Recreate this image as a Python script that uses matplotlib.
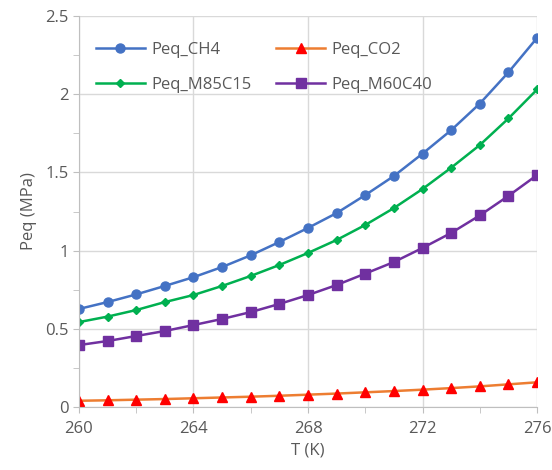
import matplotlib.pyplot as plt
from matplotlib.ticker import MultipleLocator

# temperatures (K)
T = [260, 261, 262, 263, 264, 265, 266, 267, 268, 269, 270, 271, 272, 273, 274, 275, 276]

# equilibrium pressures (MPa)
peq_ch4 = [0.627, 0.671, 0.720, 0.774, 0.830, 0.895, 0.970, 1.055, 1.145, 1.240, 1.355,
           1.477, 1.620, 1.770, 1.940, 2.140, 2.360]
peq_co2 = [0.040, 0.043, 0.047, 0.051, 0.056, 0.061, 0.066, 0.072, 0.079, 0.086, 0.094,
           0.102, 0.111, 0.121, 0.132, 0.145, 0.158]
peq_m85c15 = [0.543, 0.578, 0.620, 0.671, 0.716, 0.774, 0.838, 0.908, 0.985, 1.068, 1.164,
              1.272, 1.394, 1.530, 1.675, 1.845, 2.030]
peq_m60c40 = [0.396, 0.422, 0.454, 0.486, 0.524, 0.563, 0.607, 0.659, 0.716, 0.780, 0.853,
              0.927, 1.017, 1.113, 1.225, 1.350, 1.483]

grey = '#595959'
plt.rcParams['font.family'] = ['Open Sans', 'DejaVu Sans']

fig = plt.figure(figsize=(5.52, 4.70), dpi=100)
ax = fig.add_axes([0.143, 0.134, 0.830, 0.832])

l_ch4, = ax.plot(T, peq_ch4, color='#4472C4', lw=1.8, marker='o', ms=6.5, label='Peq_CH4')
l_co2, = ax.plot(T, peq_co2, color='#ED7D31', lw=1.8, marker='^', ms=6.5,
                 mfc='#FF0000', mec='#FF0000', label='Peq_CO2')
l_m85, = ax.plot(T, peq_m85c15, color='#00B050', lw=1.8, marker='D', ms=4.5, label='Peq_M85C15')
l_m60, = ax.plot(T, peq_m60c40, color='#7030A0', lw=1.8, marker='s', ms=6.5, label='Peq_M60C40')

ax.set_xlim(260, 276)
ax.set_ylim(0, 2.5)
ax.xaxis.set_major_locator(MultipleLocator(4))
ax.xaxis.set_minor_locator(MultipleLocator(2))
ax.yaxis.set_minor_locator(MultipleLocator(0.25))
ax.set_yticks([0, 0.5, 1, 1.5, 2, 2.5], ['0', '0.5', '1', '1.5', '2', '2.5'])

ax.grid(which='major', color='#D9D9D9', lw=1)
ax.set_axisbelow(True)
for s in ['top', 'right']:
    ax.spines[s].set_visible(False)
for s in ['left', 'bottom']:
    ax.spines[s].set_color('#BFBFBF')
ax.tick_params(which='both', colors='#BFBFBF', labelcolor=grey, labelsize=12, length=4)
ax.tick_params(axis='x', pad=6)

ax.set_xlabel('T (K)', color=grey, fontsize=12, labelpad=4)
ax.set_ylabel('Peq (MPa)', color=grey, fontsize=12, labelpad=6)

# column-major fill so rows read CH4/CO2 and M85C15/M60C40
handles = [l_ch4, l_m85, l_co2, l_m60]
leg = ax.legend(handles=handles, labels=[h.get_label() for h in handles],
                loc='upper left', ncol=2, frameon=False, fontsize=12,
                bbox_to_anchor=(0.005, 0.972), columnspacing=1.5, handlelength=2.9,
                handletextpad=0.4, labelspacing=1.15)
for t in leg.get_texts():
    t.set_color(grey)

fig.savefig('out.png', dpi=100)
